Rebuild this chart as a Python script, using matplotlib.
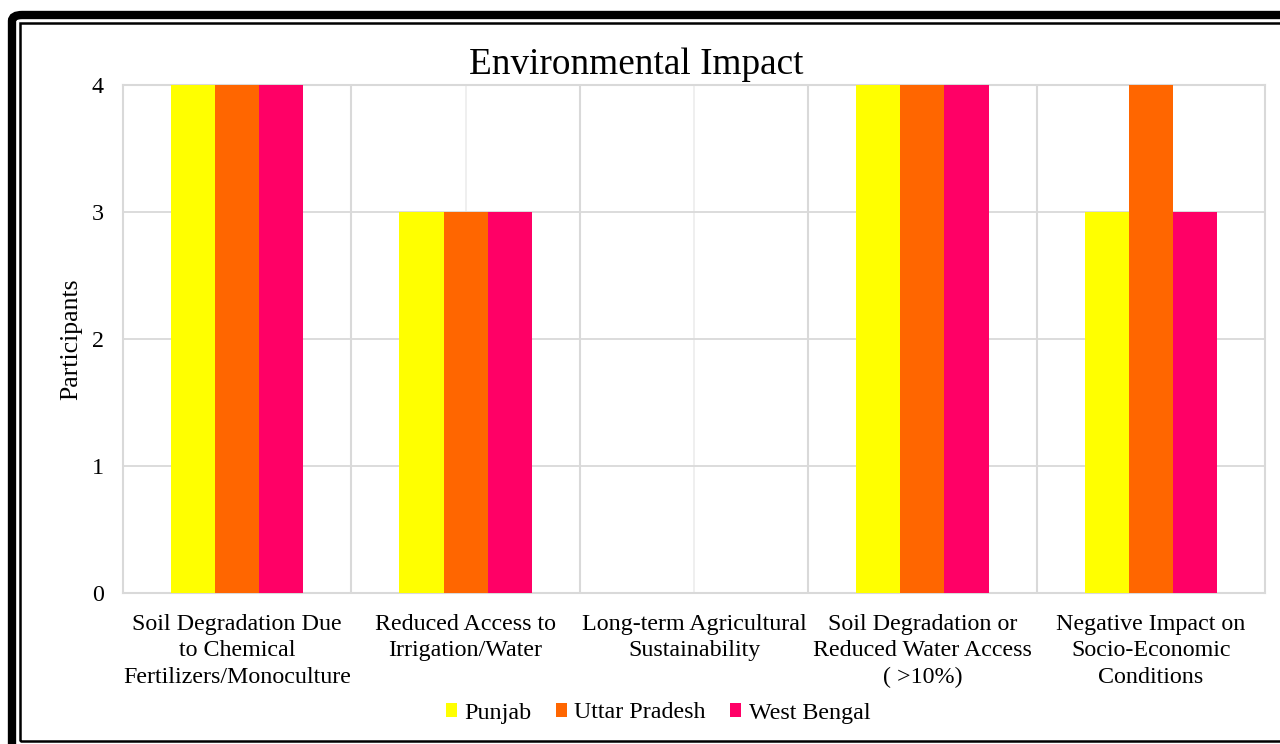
import numpy as np
import matplotlib.pyplot as plt
from matplotlib.patches import FancyBboxPatch, Rectangle

plt.rcParams['font.family'] = ['Liberation Serif', 'DejaVu Serif']

categories = ['Soil Degradation Due\nto Chemical\nFertilizers/Monoculture',
              'Reduced Access to\nIrrigation/Water',
              'Long-term Agricultural\nSustainability',
              'Soil Degradation or\nReduced Water Access\n( >10%)',
              'Negative Impact on\nSocio-Economic\nConditions']
states = ['Punjab', 'Uttar Pradesh', 'West Bengal']
punjab = [4, 3, 0, 4, 3]
uttar_pradesh = [4, 3, 0, 4, 4]
west_bengal = [4, 3, 0, 4, 3]
colors = ['#FFFF00', '#FF6600', '#FF0066']

W, H = 1280, 744
fig = plt.figure(figsize=(W / 100, H / 100), dpi=100)
ax = fig.add_axes([123 / W, 1 - 593 / H, (1265 - 123) / W, (593 - 85) / H])

x = np.arange(len(categories))
bw = 0.193
for i, (vals, c, lab) in enumerate(zip([punjab, uttar_pradesh, west_bengal], colors, states)):
    ax.bar(x + (i - 1) * bw, vals, bw, color=c, label=lab, zorder=3)

ax.set_xlim(-0.5, len(categories) - 0.5)
ax.set_ylim(0, 4)
ax.set_yticks(range(5))
ax.set_xticks(x)
ax.set_xticklabels(categories, fontsize=17.3, linespacing=1.34)
ax.tick_params(axis='both', length=0, labelsize=17.3)
ax.tick_params(axis='x', pad=15)
ax.tick_params(axis='y', pad=14)

# gridlines: horizontal, category centers and category boundaries
ax.grid(axis='y', color='#d9d9d9', lw=1.3, zorder=0)
for xc in x:
    ax.axvline(xc, color='#ececec', lw=1.2, zorder=0)
for xb in x[:-1] + 0.5:
    ax.axvline(xb, color='#d9d9d9', lw=1.5, zorder=1)
for s in ax.spines.values():
    s.set_color('#d9d9d9')
    s.set_linewidth(1.5)

ax.set_ylabel('Participants', fontsize=18.5, labelpad=7)
fig.text(636 / W, 1 - 65 / H, 'Environmental Impact', fontsize=26.8,
         ha='center', va='center')

leg = fig.legend(loc='center', bbox_to_anchor=(658 / W, 1 - 713 / H), ncol=3,
                 frameon=False, fontsize=17.3, handlelength=0.48, handleheight=0.48,
                 handletextpad=0.3, columnspacing=1.0)

# double frame around the whole chart
fig.patches.append(FancyBboxPatch((12 / W, -0.05), 1.2, 1 - 15 / H + 0.05,
                                  boxstyle='round,pad=0,rounding_size=0.008',
                                  transform=fig.transFigure, fill=False,
                                  ec='black', lw=6, zorder=10))
fig.patches.append(Rectangle((19.5 / W, 1 - 741 / H), 1.2, (741 - 23) / H,
                             transform=fig.transFigure, fill=False,
                             ec='black', lw=1.8, zorder=10))

fig.savefig('out.png', dpi=100, facecolor='white')
